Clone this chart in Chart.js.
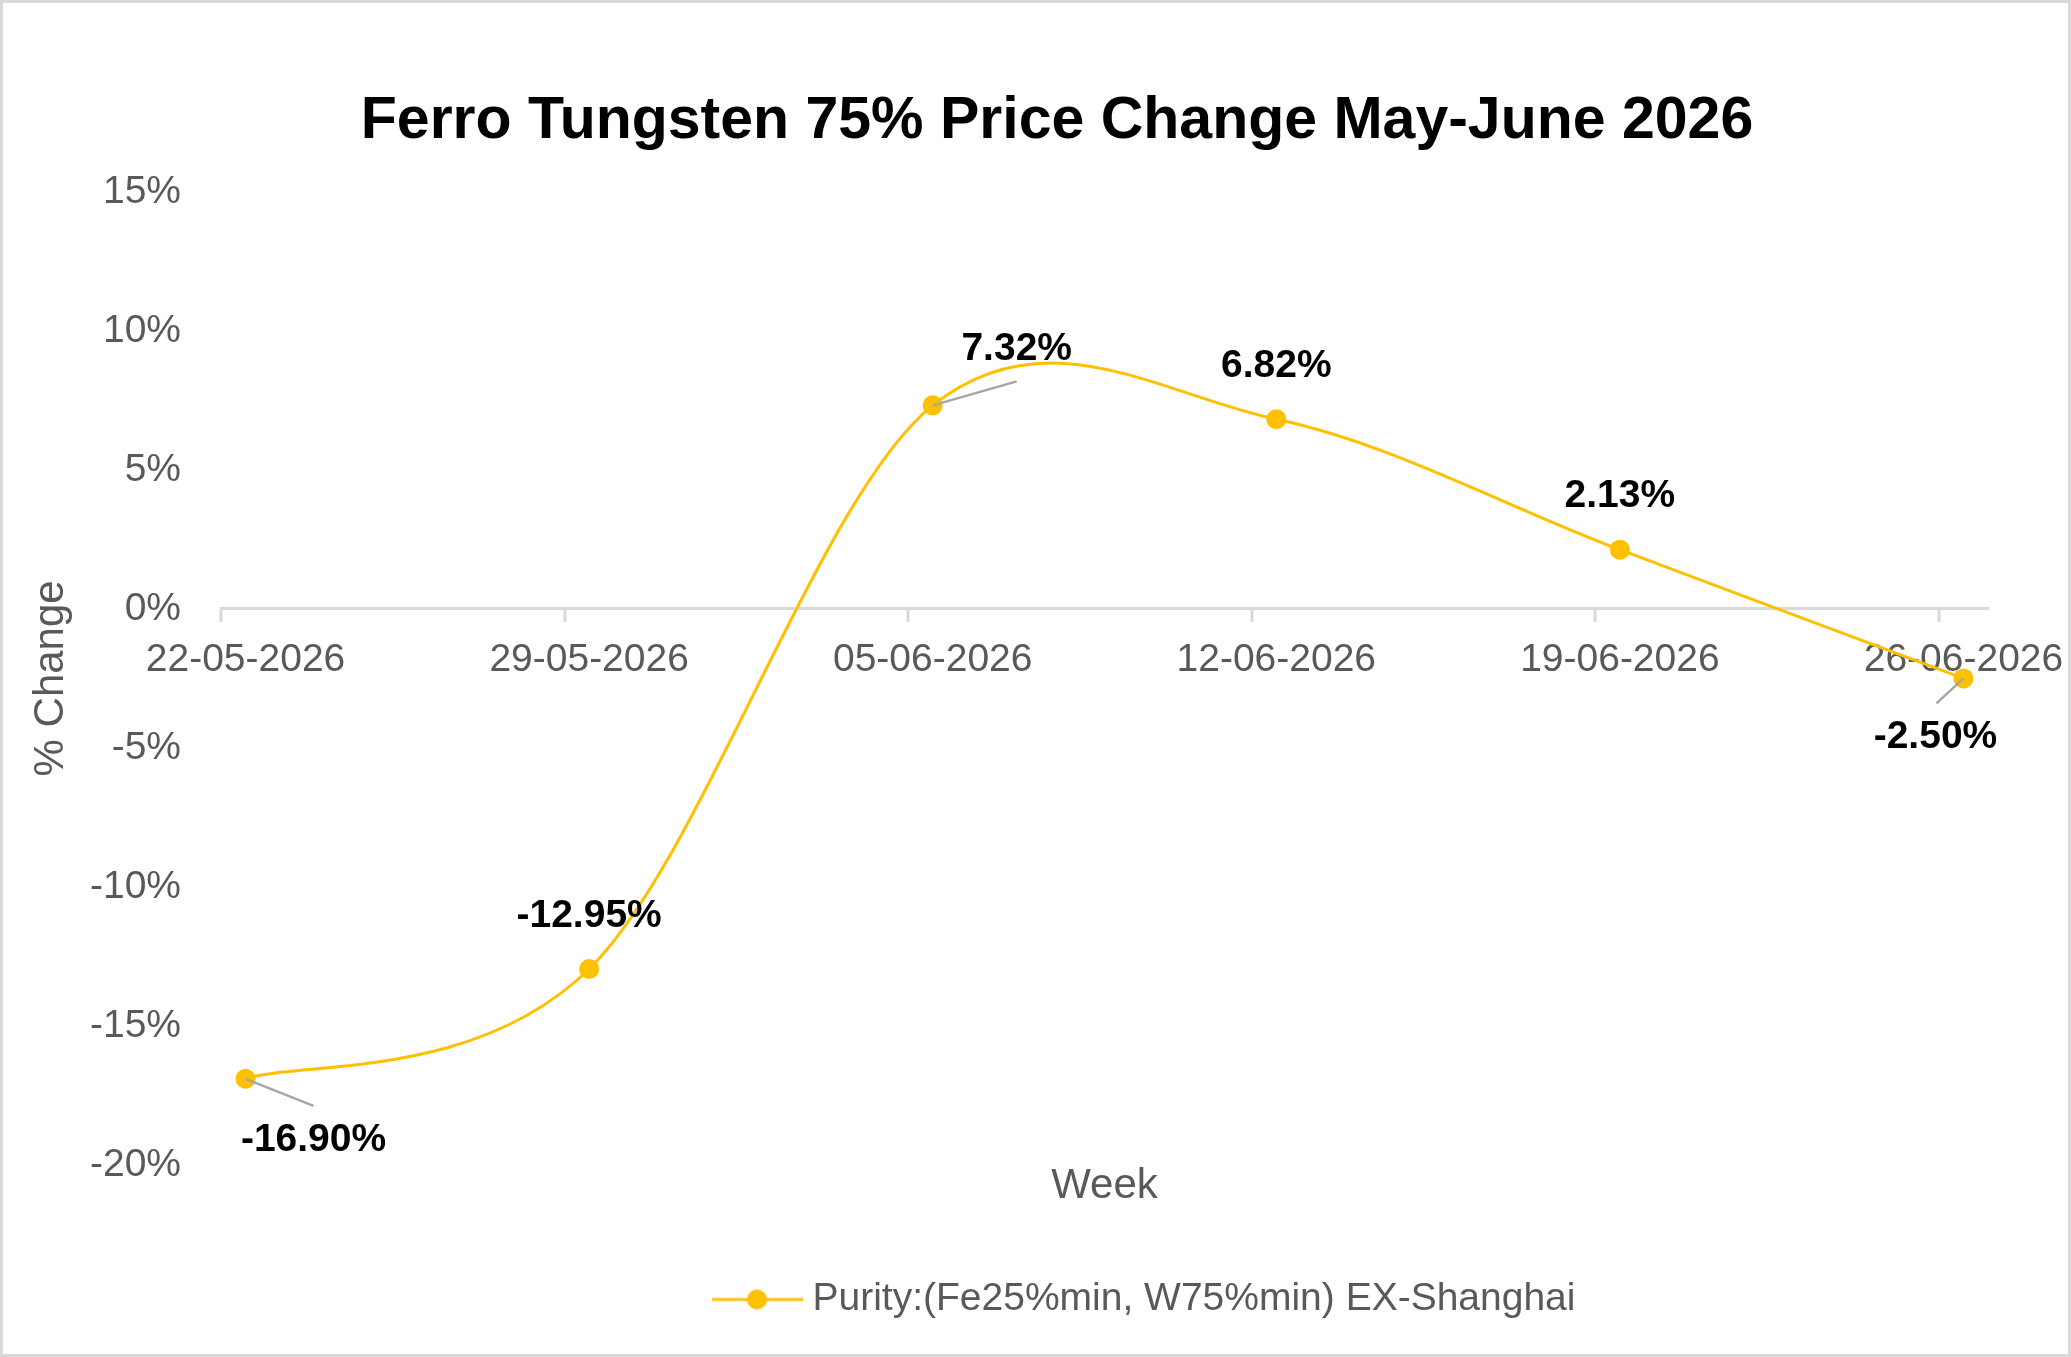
<!DOCTYPE html>
<html>
<head>
<meta charset="utf-8">
<title>Ferro Tungsten 75% Price Change May-June 2026</title>
<script src="https://cdn.jsdelivr.net/npm/chart.js@4/dist/chart.umd.min.js"></script>
<style>
  html, body { margin: 0; padding: 0; background: #fff; }
  canvas { display: block; }
</style>
</head>
<body>
<canvas id="myChart" width="2071" height="1357"></canvas>
<script>
// Chart data
let weeks = ['22-05-2026', '29-05-2026', '05-06-2026', '12-06-2026', '19-06-2026', '26-06-2026'];
let priceChange = [-16.90, -12.95, 7.32, 6.82, 2.13, -2.50];
let yTicks = [-20, -15, -10, -5, 0, 5, 10, 15];
let seriesName = 'Purity:(Fe25%min, W75%min) EX-Shanghai';

// date axis in days, like the excel one (points sit mid-day)
function toDay(s) {
    let p = s.split('-');
    return Date.UTC(+p[2], +p[1] - 1, +p[0]) / 864e5;
}
let day0 = toDay(weeks[0]);
let days = weeks.map(w => toDay(w) - day0);

let gold = '#FFC000';
let grey = '#595959';
Chart.defaults.font.family = "'Liberation Sans', Arial, sans-serif";

// where each value label goes, relative to its point [dx, dy, leaderDx, leaderDy]
let labelSpots = [[68, 61, 68, 27], [0, -53], [84, -56, 84, -24], [0, -53], [0, -53], [-28, 59, -27, 25]];

// legend marker: line with a dot
let marker = document.createElement('canvas');
marker.width = 91;
marker.height = 24;
let mctx = marker.getContext('2d');
mctx.strokeStyle = gold;
mctx.lineWidth = 3;
mctx.beginPath();
mctx.moveTo(0, 12);
mctx.lineTo(91, 12);
mctx.stroke();
mctx.fillStyle = gold;
mctx.beginPath();
mctx.arc(45.5, 12, 10, 0, Math.PI * 2);
mctx.fill();

// white background + grey frame
const frame = {
    id: 'frame',
    beforeDraw(chart) {
        let c = chart.ctx;
        c.save();
        c.fillStyle = '#fff';
        c.fillRect(0, 0, chart.width, chart.height);
        c.restore();
    },
    afterDraw(chart) {
        let c = chart.ctx;
        c.save();
        c.strokeStyle = '#d9d9d9';
        c.lineWidth = 3;
        c.strokeRect(1.5, 1.5, chart.width - 3, chart.height - 3);
        c.restore();
    }
};

// title and legend are not centred on the canvas in the original
const nudge = {
    id: 'nudge',
    afterLayout(chart) {
        chart.titleBlock.left += 50;
        chart.titleBlock.right += 50;
        chart.legend.left += 685;
    }
};

// excel style smoothing: control points at 1/6 of the neighbour span
const excelSmooth = {
    id: 'excelSmooth',
    beforeDatasetDraw(chart, args) {
        let meta = args.meta;
        meta.dataset.updateControlPoints(chart.chartArea, meta.iScale.axis);
        let pts = meta.data;
        pts.forEach((p, i) => {
            let prev = pts[Math.max(i - 1, 0)];
            let next = pts[Math.min(i + 1, pts.length - 1)];
            let tx = (next.x - prev.x) / 6;
            let ty = (next.y - prev.y) / 6;
            p.cp1x = p.x - tx;
            p.cp1y = p.y - ty;
            p.cp2x = p.x + tx;
            p.cp2y = p.y + ty;
        });
    }
};

// tick marks at the start of each day slot
const dayTicks = {
    id: 'dayTicks',
    beforeDatasetsDraw(chart) {
        let x = chart.scales.x;
        let y0 = chart.scales.y.getPixelForValue(0);
        let c = chart.ctx;
        c.save();
        c.strokeStyle = '#d9d9d9';
        c.lineWidth = 3;
        days.forEach(d => {
            let px = Math.round(x.getPixelForValue(d - 0.5));
            c.beginPath();
            c.moveTo(px, y0);
            c.lineTo(px, y0 + 13);
            c.stroke();
        });
        c.restore();
    }
};

// value labels with leader lines
const valueLabels = {
    id: 'valueLabels',
    afterDatasetsDraw(chart) {
        let c = chart.ctx;
        let pts = chart.getDatasetMeta(0).data;
        c.save();
        pts.forEach((p, i) => {
            let s = labelSpots[i];
            if (s.length > 2) {
                c.strokeStyle = '#A6A6A6';
                c.lineWidth = 2.5;
                c.beginPath();
                c.moveTo(p.x, p.y);
                c.lineTo(p.x + s[2], p.y + s[3]);
                c.stroke();
            }
            c.fillStyle = '#000';
            c.font = "bold 39px 'Liberation Sans', Arial, sans-serif";
            c.textAlign = 'center';
            c.textBaseline = 'middle';
            c.fillText(priceChange[i].toFixed(2) + '%', p.x + s[0], p.y + s[1]);
        });
        c.restore();
    }
};

var ctx = document.getElementById('myChart').getContext('2d');
var myChart = new Chart(ctx, {
    type: 'line',
    data: {
        datasets: [{
            label: seriesName,
            data: days.map((d, i) => ({x: d, y: priceChange[i]})),
            borderColor: gold,
            backgroundColor: gold,
            borderWidth: 3,
            pointRadius: 10,
            pointBorderWidth: 0,
            pointBackgroundColor: gold,
            tension: 0.5,
            fill: false
        }]
    },
    options: {
        responsive: false,
        animation: false,
        devicePixelRatio: 1,
        layout: {
            padding: {top: 3, left: 26, right: 83, bottom: 28}
        },
        scales: {
            x: {
                type: 'linear',
                position: {y: 0},
                min: days[0] - 0.5,
                max: days[days.length - 1] + 0.5,
                afterBuildTicks: s => { s.ticks = days.map(d => ({value: d})); },
                afterFit: s => { s.height = 0; },
                ticks: {
                    callback: (v, i) => weeks[i],
                    color: grey,
                    font: {size: 39},
                    padding: 0,
                    maxRotation: 0,
                    autoSkip: false
                },
                grid: {drawOnChartArea: false, drawTicks: true, tickLength: 28, tickColor: 'rgba(0,0,0,0)'},
                border: {display: true, color: '#d9d9d9', width: 3}
            },
            x2: {
                type: 'linear',
                position: 'bottom',
                afterFit: s => { s.height = 105; },
                ticks: {display: false},
                grid: {display: false, drawTicks: false},
                border: {display: false},
                title: {
                    display: true,
                    text: 'Week',
                    color: grey,
                    font: {size: 42},
                    padding: {top: 0, bottom: 58}
                }
            },
            y: {
                min: yTicks[0],
                max: yTicks[yTicks.length - 1],
                afterBuildTicks: s => { s.ticks = yTicks.map(v => ({value: v})); },
                afterFit: s => { s.width = 195; },
                ticks: {
                    callback: v => v + '%',
                    color: grey,
                    font: {size: 39},
                    padding: 40
                },
                grid: {display: false, drawTicks: false},
                border: {display: false},
                title: {
                    display: true,
                    text: '% Change',
                    color: grey,
                    font: {size: 42},
                    padding: {top: 0, bottom: 0}
                }
            }
        },
        plugins: {
            title: {
                display: true,
                text: 'Ferro Tungsten 75% Price Change May-June 2026',
                color: '#000',
                font: {size: 59, weight: 'bold'},
                padding: {top: 83, bottom: 35}
            },
            legend: {
                position: 'bottom',
                align: 'start',
                labels: {
                    usePointStyle: true,
                    pointStyle: marker,
                    pointStyleWidth: 72,
                    color: grey,
                    font: {size: 39},
                    padding: 10
                }
            },
            tooltip: {enabled: false}
        }
    },
    plugins: [frame, nudge, excelSmooth, dayTicks, valueLabels]
});
</script>
</body>
</html>
